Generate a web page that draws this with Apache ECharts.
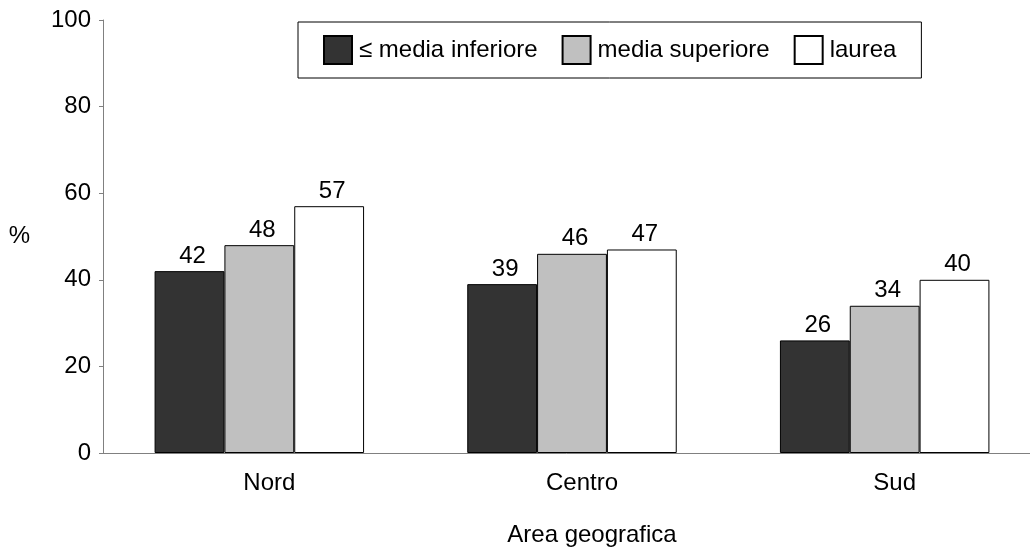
<!DOCTYPE html>
<html>
<head>
<meta charset="utf-8">
<script src="https://cdn.jsdelivr.net/npm/echarts@6/dist/echarts.min.js"></script>
<style>html,body{margin:0;padding:0;background:#fff}#c{width:1030px;height:548px}</style>
</head>
<body>
<div id="c"></div>
<script>
const categories = ['Nord', 'Centro', 'Sud'];
const seriesNames = ['\u2264 media inferiore', 'media superiore', 'laurea'];
const valInferiore = [42, 39, 26];
const valSuperiore = [48, 46, 34];
const valLaurea = [57, 47, 40];
const yTicks = [0, 20, 40, 60, 80, 100];

const FONT = 'Liberation Sans, Arial, sans-serif';
const FS = 24;
const colors = ['#333333', '#c0c0c0', '#ffffff'];
const values = [valInferiore, valSuperiore, valLaurea];

const chart = echarts.init(document.getElementById('c'), null, {renderer: 'canvas'});
chart.setOption({
  animation: false,
  textStyle: {fontFamily: FONT},
  grid: {left: 103, right: -11, top: 20, bottom: 95, containLabel: false, outerBoundsMode: 'none'},
  legend: {
    left: 298, top: 22,
    padding: [13, 25, 13, 25],
    borderColor: '#000', borderWidth: 1,
    itemWidth: 28, itemHeight: 28, itemGap: 24,
    icon: 'rect',
    textStyle: {fontSize: FS, color: '#000', fontFamily: FONT, padding: [0, 0, 0, 2]},
    data: seriesNames
  },
  xAxis: {
    type: 'category',
    data: categories,
    name: 'Area geografica',
    nameLocation: 'middle',
    nameGap: 70,
    nameTextStyle: {fontSize: FS, color: '#000', fontFamily: FONT, padding: [0, 0, 0, 40]},
    axisLine: {lineStyle: {color: '#808080', width: 1}},
    axisTick: {show: false},
    axisLabel: {fontSize: FS, color: '#000', fontFamily: FONT, margin: 18, padding: [0, 0, 0, 20]},
    splitLine: {show: false}
  },
  yAxis: {
    type: 'value',
    min: 0, max: 100, interval: 20,
    name: '%',
    nameLocation: 'middle',
    nameRotate: 0,
    nameGap: 73,
    nameTextStyle: {fontSize: FS, color: '#000', fontFamily: FONT},
    axisLine: {show: true, lineStyle: {color: '#808080', width: 1}},
    axisTick: {show: true, length: 4, lineStyle: {color: '#808080'}},
    axisLabel: {fontSize: FS, color: '#000', fontFamily: FONT, margin: 12,
      formatter: v => yTicks.includes(v) ? String(v) : ''},
    splitLine: {show: false}
  },
  series: seriesNames.map((n, i) => ({
    name: n,
    type: 'bar',
    data: values[i],
    barGap: '0%',
    barCategoryGap: '33%',
    itemStyle: {color: colors[i], borderColor: '#000', borderWidth: 1},
    label: {show: true, position: 'top', distance: 3, offset: [3, 0], fontSize: FS, color: '#000', fontFamily: FONT}
  }))
});
</script>
</body>
</html>
